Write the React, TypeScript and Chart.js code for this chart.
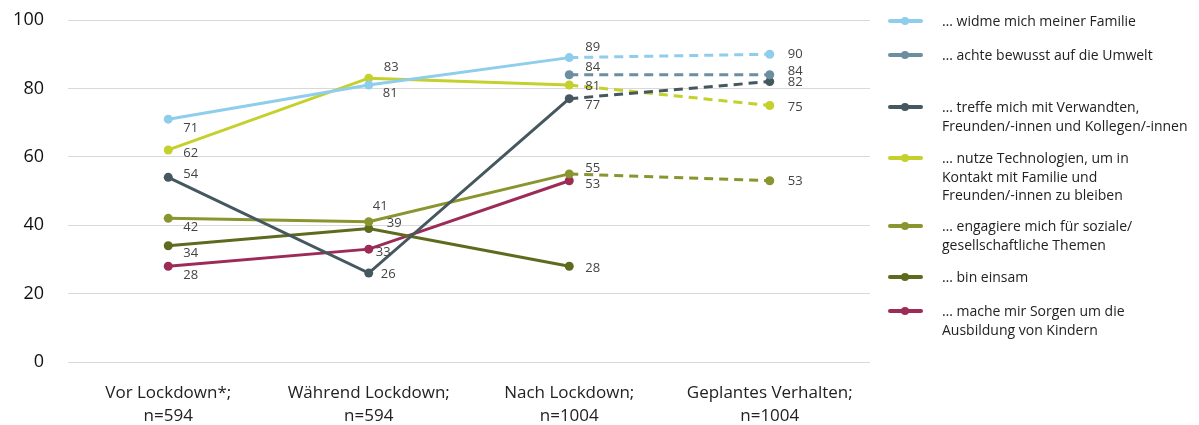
import React, { useEffect, useRef } from "react";
import { Chart, registerables } from "chart.js";

Chart.register(...registerables);

// ---- data ----
const categories: string[][] = [
  ["Vor Lockdown*;", "n=594"],
  ["Während Lockdown;", "n=594"],
  ["Nach Lockdown;", "n=1004"],
  ["Geplantes Verhalten;", "n=1004"],
];
const yTicks = [0, 20, 40, 60, 80, 100];

const familie: (number | null)[] = [71, 81, 89, 90];
const umwelt: (number | null)[] = [null, null, 84, 84];
const treffen: (number | null)[] = [54, 26, 77, 82];
const technologie: (number | null)[] = [62, 83, 81, 75];
const engagement: (number | null)[] = [42, 41, 55, 53];
const einsam: (number | null)[] = [34, 39, 28, null];
const sorgen: (number | null)[] = [28, 33, 53, null];

const seriesNames: string[][] = [
  ["… widme mich meiner Familie"],
  ["… achte bewusst auf die Umwelt"],
  ["… treffe mich mit Verwandten,", "Freunden/-innen und Kollegen/-innen"],
  ["… nutze Technologien, um in", "Kontakt mit Familie und", "Freunden/-innen zu bleiben"],
  ["… engagiere mich für soziale/", "gesellschaftliche Themen"],
  ["… bin einsam"],
  ["… mache mir Sorgen um die", "Ausbildung von Kindern"],
];

// ---- styles ----
const colors = ["#8ecdec", "#6b8ea0", "#45575f", "#c4d02c", "#8a952f", "#5e6a1e", "#9c2c57"];
const seriesData = [familie, umwelt, treffen, technologie, engagement, einsam, sorgen];

// label offsets [dx, dy] relative to each point
const labelOffsets: ([number, number] | null)[][] = [
  [[15, 9], [14, 8], [16, -10], [18, 0]],
  [null, null, [16, -7], [18, -3]],
  [[15, -3], [12, 1], [16, 7], [18, 1]],
  [[15, 3], [15, -11], [16, 1], [18, 2]],
  [[15, 9], [4, -15], [16, -6], [18, 1]],
  [[15, 8], [18, -5], [16, 2], null],
  [[15, 9], [7, 3], [16, 4], null],
];

const legendTops = [21, 55, 107, 158, 226, 277, 311];
const FONT = "'Open Sans', 'Noto Sans', sans-serif";

const labelPlugin = {
  id: "pointLabels",
  afterDatasetsDraw(chart: any) {
    const ctx = chart.ctx;
    ctx.save();
    ctx.font = `13px ${FONT}`;
    ctx.fillStyle = "#444";
    ctx.textAlign = "left";
    ctx.textBaseline = "middle";
    chart.data.datasets.forEach((ds: any, di: number) => {
      const meta = chart.getDatasetMeta(di);
      meta.data.forEach((pt: any, i: number) => {
        const v = ds.data[i];
        const off = labelOffsets[di][i];
        if (v == null || !off) return;
        ctx.fillText(String(v), pt.x + off[0], pt.y + off[1]);
      });
    });
    ctx.restore();
  },
};

export default function App() {
  const ref = useRef<HTMLCanvasElement | null>(null);

  useEffect(() => {
    if (!ref.current) return;
    const chart = new Chart(ref.current, {
      type: "line",
      data: {
        labels: categories as any,
        datasets: seriesData.map((d, i) => ({
          label: seriesNames[i].join(" "),
          data: d,
          borderColor: colors[i],
          backgroundColor: colors[i],
          pointBackgroundColor: colors[i],
          pointBorderWidth: 0,
          pointRadius: 4.5,
          borderWidth: 3,
          tension: 0,
          spanGaps: false,
          segment: {
            borderDash: (c: any) => (c.p0DataIndex >= 2 ? [9, 6] : undefined),
          },
        })),
      },
      options: {
        responsive: false,
        animation: false,
        layout: { padding: { top: 20, right: 329, left: 0, bottom: 0 } },
        plugins: {
          legend: { display: false },
          tooltip: { enabled: false },
        },
        scales: {
          x: {
            offset: true,
            grid: { display: false },
            border: { display: false },
            ticks: {
              font: { family: FONT, size: 17, lineHeight: 1.35 },
              color: "#222",
              padding: 12,
              maxRotation: 0,
              autoSkip: false,
            },
            afterFit: (s: any) => {
              s.height = 63;
            },
          },
          y: {
            min: 0,
            max: 100,
            afterBuildTicks: (s: any) => {
              s.ticks = yTicks.map((v) => ({ value: v }));
            },
            ticks: {
              font: { family: FONT, size: 18 },
              color: "#111",
              padding: 24,
            },
            grid: { color: "#d9d9d9", drawTicks: false, lineWidth: 1 },
            border: { display: false },
            afterFit: (s: any) => {
              s.width = 68;
              s.paddingTop = 0;
              s.paddingBottom = 0;
            },
          },
        },
      },
      plugins: [labelPlugin],
    });
    return () => chart.destroy();
  }, []);

  return (
    <div style={{ position: "absolute", left: 0, top: 0, width: 1199, height: 425, background: "#fff" }}>
      <canvas ref={ref} width={1199} height={425} style={{ display: "block" }} />
      {seriesNames.map((lines, i) => (
        <div
          key={i}
          style={{
            position: "absolute",
            left: 888,
            top: legendTops[i] - 9,
            display: "flex",
            alignItems: "flex-start",
            fontFamily: FONT,
            fontSize: 14,
            lineHeight: "18.5px",
            color: "#222",
          }}
        >
          <div style={{ position: "relative", width: 35, height: 18, flex: "none" }}>
            <div
              style={{
                position: "absolute",
                left: 0,
                top: 7,
                width: 35,
                height: 4,
                borderRadius: 2,
                background: colors[i],
              }}
            />
            <div
              style={{
                position: "absolute",
                left: 13,
                top: 5,
                width: 8,
                height: 8,
                borderRadius: 4,
                background: colors[i],
              }}
            />
          </div>
          <div style={{ marginLeft: 19, whiteSpace: "nowrap" }}>
            {lines.map((l, j) => (
              <div key={j}>{l}</div>
            ))}
          </div>
        </div>
      ))}
    </div>
  );
}
